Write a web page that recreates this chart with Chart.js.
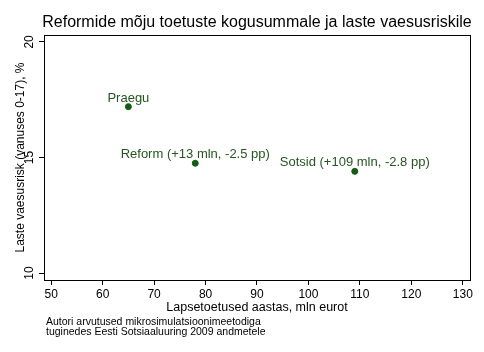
<!DOCTYPE html>
<html>
<head>
<meta charset="utf-8">
<title>Reformide mõju</title>
<script src="https://cdn.jsdelivr.net/npm/chart.js"></script>
<style>
  html, body { margin: 0; padding: 0; background: #fff; }
  #wrap { width: 484px; height: 352px; position: relative; }
</style>
</head>
<body>
<div id="wrap"><canvas id="chart"></canvas></div>
<script>
// data
const pointNames = ['Praegu', 'Reform (+13 mln, -2.5 pp)', 'Sotsid (+109 mln, -2.8 pp)'];
const spending = [65, 78, 109];      // mln eurot
const povertyRisk = [17.2, 14.75, 14.4]; // %
const xTicks = [50, 60, 70, 80, 90, 100, 110, 120, 130];
const yTicks = [10, 15, 20];

const font = "'Liberation Sans', Arial, sans-serif";
const green = '#0f5f12';

// title, rotated y tick labels, point labels, plot box and footnote
const extras = {
  id: 'extras',
  afterDraw(chart) {
    const ctx = chart.ctx;
    const a = chart.chartArea;
    const xs = chart.scales.x, ys = chart.scales.y;
    ctx.save();

    ctx.strokeStyle = '#000';
    ctx.lineWidth = 1;
    ctx.strokeRect(Math.round(a.left) + 0.5, Math.round(a.top) + 0.5,
                   Math.round(a.right - a.left), Math.round(a.bottom - a.top));

    ctx.fillStyle = '#000';
    ctx.font = '16px ' + font;
    ctx.textAlign = 'center';
    ctx.textBaseline = 'alphabetic';
    ctx.fillText('Reformide mõju toetuste kogusummale ja laste vaesusriskile', (a.left + a.right) / 2, 27);

    ctx.font = '12px ' + font;
    yTicks.forEach(v => {
      ctx.save();
      ctx.translate(30, ys.getPixelForValue(v));
      ctx.rotate(-Math.PI / 2);
      ctx.textBaseline = 'middle';
      ctx.fillText(String(v), 0, 0);
      ctx.restore();
    });

    ctx.fillStyle = '#24561f';
    ctx.font = '13px ' + font;
    ctx.textBaseline = 'alphabetic';
    pointNames.forEach((name, i) => {
      ctx.fillText(name, xs.getPixelForValue(spending[i]), ys.getPixelForValue(povertyRisk[i]) - 5);
    });

    ctx.fillStyle = '#000';
    ctx.font = '10.5px ' + font;
    ctx.textAlign = 'left';
    ctx.fillText('Autori arvutused mikrosimulatsioonimeetodiga', 46, 325);
    ctx.fillText('tuginedes Eesti Sotsiaaluuring 2009 andmetele', 46, 335);
    ctx.restore();
  }
};

new Chart(document.getElementById('chart'), {
  type: 'scatter',
  data: {
    datasets: [{
      data: spending.map((x, i) => ({ x: x, y: povertyRisk[i] })),
      backgroundColor: green,
      borderColor: green,
      pointRadius: 3,
      pointHoverRadius: 3
    }]
  },
  options: {
    responsive: true,
    maintainAspectRatio: false,
    animation: false,
    devicePixelRatio: 1,
    layout: { padding: { top: 35, right: 14, bottom: 33, left: 0 } },
    plugins: { legend: { display: false }, tooltip: { enabled: false } },
    scales: {
      x: {
        type: 'linear',
        min: 48.6,
        max: 131.4,
        afterBuildTicks: s => { s.ticks = xTicks.map(v => ({ value: v })); },
        afterFit: s => { s.height = 39; },
        grid: { drawOnChartArea: false, tickLength: 5, color: '#000' },
        border: { display: true, color: '#000' },
        ticks: { color: '#000', font: { family: font, size: 12 }, padding: 2, maxRotation: 0 },
        title: { display: true, text: 'Lapsetoetused aastas, mln eurot', color: '#000',
                 font: { family: font, size: 12.5 }, padding: { top: 4, bottom: 4 } }
      },
      y: {
        type: 'linear',
        min: 9.7,
        max: 20.3,
        afterBuildTicks: s => { s.ticks = yTicks.map(v => ({ value: v })); },
        afterFit: s => { s.width = 44; },
        grid: { drawOnChartArea: false, tickLength: 5, color: '#000' },
        border: { display: true, color: '#000' },
        ticks: { display: false },
        title: { display: true, text: 'Laste vaesusrisk (vanuses 0-17), %', color: '#000',
                 font: { family: font, size: 12 }, padding: { top: 13, bottom: 0 } }
      }
    }
  },
  plugins: [extras]
});
</script>
</body>
</html>
